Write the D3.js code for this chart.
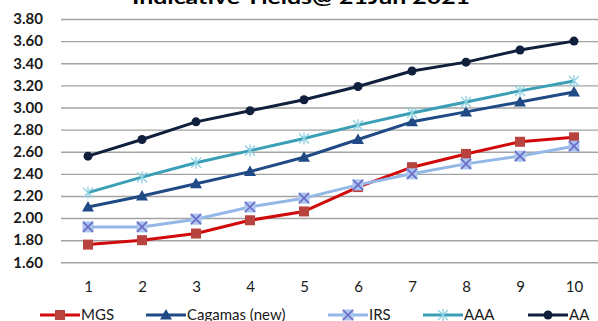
<!DOCTYPE html>
<html>
<head>
<meta charset="utf-8">
<script src="https://cdn.jsdelivr.net/npm/d3@7"></script>
<style>
  html, body { margin: 0; padding: 0; background: #fff; }
  svg { display: block; }
</style>
</head>
<body>
<div id="chart"></div>
<script>
// Tenor in years
const tenors = [1, 2, 3, 4, 5, 6, 7, 8, 9, 10];
const yTicks = [1.6, 1.8, 2.0, 2.2, 2.4, 2.6, 2.8, 3.0, 3.2, 3.4, 3.6, 3.8];

// Indicative yields (%) by tenor
const mgs     = [1.76, 1.80, 1.86, 1.98, 2.06, 2.28, 2.46, 2.58, 2.69, 2.73];
const cagamas = [2.10, 2.20, 2.31, 2.42, 2.55, 2.71, 2.87, 2.96, 3.05, 3.14];
const irs     = [1.92, 1.92, 1.99, 2.10, 2.18, 2.30, 2.40, 2.49, 2.56, 2.65];
const aaa     = [2.23, 2.37, 2.50, 2.61, 2.72, 2.84, 2.95, 3.05, 3.15, 3.24];
const aa      = [2.56, 2.71, 2.87, 2.97, 3.07, 3.19, 3.33, 3.41, 3.52, 3.60];

const seriesNames = ["MGS", "Cagamas (new)", "IRS", "AAA", "AA"];
const titleText = "Indicative Yields@ 21Jun 2021";

const series = [
  { name: seriesNames[0], values: mgs,     line: "#d00a0a", marker: "square",   mfill: "#b8423d", mstroke: "#b8423d" },
  { name: seriesNames[1], values: cagamas, line: "#1f4a85", marker: "triangle", mfill: "#1f4a85", mstroke: "#1f4a85" },
  { name: seriesNames[2], values: irs,     line: "#93b7e6", marker: "x",        mfill: "#a9c4f0", mstroke: "#6c6cc4" },
  { name: seriesNames[3], values: aaa,     line: "#3a9fb6", marker: "star",     mfill: "none",    mstroke: "#8fd2e2" },
  { name: seriesNames[4], values: aa,      line: "#0f1f3c", marker: "circle",   mfill: "#0f1f3c", mstroke: "#0f1f3c" }
];

const W = 598, H = 321;
const plot = { left: 61, right: 601, top: 19, bottom: 262.3 };

const svg = d3.select("#chart").append("svg")
  .attr("width", W).attr("height", H);

const x = d3.scalePoint().domain(tenors).range([plot.left, plot.right]).padding(0.5);
const y = d3.scaleLinear().domain([1.6, 3.8]).range([plot.bottom, plot.top]);

const font = "Lato, 'Open Sans', sans-serif";

// Title
svg.append("text")
  .attr("x", 301).attr("y", 4)
  .attr("text-anchor", "middle")
  .attr("font-family", font).attr("font-weight", "bold")
  .attr("font-size", 19).attr("fill", "#000")
  .attr("textLength", 338).attr("lengthAdjust", "spacingAndGlyphs")
  .text(titleText);

// Horizontal gridlines and value labels
const yAxis = d3.axisLeft(y)
  .tickValues(yTicks)
  .tickFormat(d3.format(".2f"))
  .tickSize(-(plot.right - plot.left))
  .tickPadding(18);

const gy = svg.append("g")
  .attr("transform", `translate(${plot.left},0)`)
  .call(yAxis);
gy.select(".domain").remove();
gy.selectAll(".tick line").attr("stroke", "#a3a3a3").attr("stroke-width", 1.4);
gy.selectAll(".tick text")
  .attr("font-family", font).attr("font-weight", "bold")
  .attr("font-size", 15).attr("fill", "#1a1a1a");

// Category labels
const xAxis = d3.axisBottom(x).tickSize(0).tickPadding(0);
const gx = svg.append("g")
  .attr("transform", `translate(0,${plot.bottom + 19})`)
  .call(xAxis);
gx.select(".domain").remove();
gx.selectAll(".tick text")
  .attr("font-family", font).attr("font-size", 15).attr("fill", "#1a1a1a");

// Marker shapes
function drawMarker(g, s, cx, cy) {
  const m = g.append("g").attr("transform", `translate(${cx},${cy})`);
  if (s.marker === "square") {
    m.append("rect").attr("x", -5).attr("y", -5).attr("width", 10).attr("height", 10)
      .attr("fill", s.mfill);
  } else if (s.marker === "triangle") {
    m.append("path").attr("d", "M0,-6L6,4.5L-6,4.5Z").attr("fill", s.mfill);
  } else if (s.marker === "x") {
    m.append("rect").attr("x", -5.5).attr("y", -5.5).attr("width", 11).attr("height", 11)
      .attr("fill", s.mfill);
    m.append("path").attr("d", "M-5,-5L5,5M5,-5L-5,5")
      .attr("stroke", s.mstroke).attr("stroke-width", 1.6).attr("fill", "none");
  } else if (s.marker === "star") {
    m.append("path").attr("d", "M-5,-5L5,5M5,-5L-5,5M0,-6L0,6")
      .attr("stroke", s.mstroke).attr("stroke-width", 1.4).attr("fill", "none");
  } else if (s.marker === "circle") {
    m.append("circle").attr("r", 4.5).attr("fill", s.mfill);
  }
}

// Lines and markers
const line = d3.line().x((d, i) => x(tenors[i])).y(d => y(d));
series.forEach(s => {
  const g = svg.append("g");
  g.append("path")
    .attr("d", line(s.values))
    .attr("fill", "none")
    .attr("stroke", s.line)
    .attr("stroke-width", 3)
    .attr("stroke-linejoin", "round");
  s.values.forEach((v, i) => drawMarker(g, s, x(tenors[i]), y(v)));
});

// Legend
const legendX = [40, 146, 328, 423, 528];
const legendY = 315;
series.forEach((s, i) => {
  const g = svg.append("g").attr("transform", `translate(${legendX[i]},${legendY})`);
  g.append("line").attr("x1", 0).attr("x2", 40).attr("y1", 0).attr("y2", 0)
    .attr("stroke", s.line).attr("stroke-width", 3);
  drawMarker(g, s, 20, 0);
  g.append("text")
    .attr("x", 41).attr("y", 0).attr("dy", "0.36em")
    .attr("font-family", font).attr("font-size", 15).attr("fill", "#1a1a1a")
    .text(s.name);
});
</script>
</body>
</html>
